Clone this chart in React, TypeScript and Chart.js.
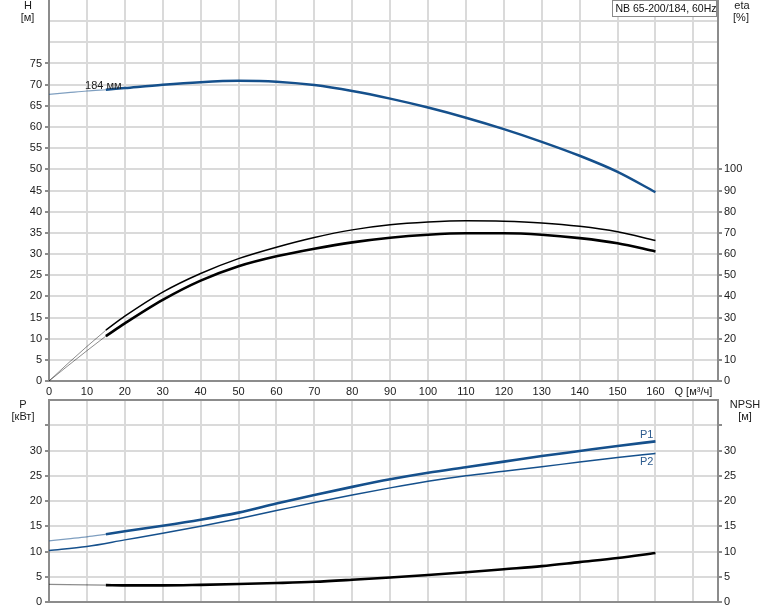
import React, { useEffect, useRef } from 'react';
import { Chart, registerables } from 'chart.js';

Chart.register(...registerables);

// ---------- data ----------
const Q_EXT = [0, 5, 10, 15];
const Q_MAIN = [15, 20, 30, 40, 50, 60, 70, 80, 90, 100, 110, 120, 130, 140, 150, 160];
const Q_P2 = [0, 10, 20, 30, 40, 50, 60, 70, 80, 90, 100, 110, 120, 130, 140, 150, 160];

const H_EXT = [67.7, 68.1, 68.5, 68.8];
const H_MAIN = [68.8, 69.2, 70.0, 70.6, 70.9, 70.7, 69.9, 68.5, 66.7, 64.6, 62.2, 59.5, 56.5, 53.2, 49.4, 44.6];

const ETA1_EXT = [0, 8.3, 16.3, 24.0];
const ETA1_MAIN = [24.0, 30.6, 42.0, 50.8, 57.8, 63.2, 67.8, 71.4, 73.8, 75.1, 75.7, 75.5, 74.7, 73.1, 70.5, 66.4];
const ETA2_EXT = [0, 7.2, 14.3, 21.2];
const ETA2_MAIN = [21.2, 27.2, 38.3, 47.4, 54.2, 58.9, 62.5, 65.5, 67.7, 69.1, 69.8, 69.8, 69.1, 67.5, 65.1, 61.2];

const P1_EXT = [12.1, 12.5, 12.9, 13.4];
const P1_MAIN = [13.4, 14.0, 15.1, 16.3, 17.7, 19.5, 21.2, 22.8, 24.3, 25.6, 26.7, 27.8, 28.9, 29.9, 30.9, 31.8];
const P2_ALL = [10.2, 11.0, 12.3, 13.6, 15.0, 16.5, 18.1, 19.7, 21.2, 22.6, 23.9, 25.0, 25.9, 26.8, 27.7, 28.6, 29.4];

const NPSH_EXT = [3.5, 3.45, 3.4, 3.35];
const NPSH_MAIN = [3.35, 3.3, 3.3, 3.4, 3.55, 3.75, 4.0, 4.4, 4.85, 5.35, 5.9, 6.5, 7.1, 7.9, 8.7, 9.7];

const X_TICKS = [0, 10, 20, 30, 40, 50, 60, 70, 80, 90, 100, 110, 120, 130, 140, 150, 160, 170];
const X_MAX = 176.5;
const Q_UNIT_LABEL = 'Q [м³/ч]';
const H_MAX = 90;
const H_LABEL_MAX = 75;
const ETA_MAX = 180;
const ETA_LABEL_MAX = 100;
const P_MAX = 40;
const P_LABEL_MAX = 30;

const TITLE = 'NB 65-200/184, 60Hz';
const CURVE_LABEL = '184 мм';

// ---------- styles ----------
const FONT = '"Liberation Sans", Arial, sans-serif';
const BLUE = '#15508c';
const BLUE_LIGHT = 'rgba(21,80,140,0.55)';
const GREY_EXT = 'rgba(0,0,0,0.45)';
const GRID = '#dadada';
const AXIS = '#8c8c8c';
const TEXT = '#1b1b1b';
const NONE = 'rgba(0,0,0,0)';

const pts = (xs: number[], ys: number[]) => xs.map((x, i) => ({ x, y: ys[i] }));

const line = (data: any, color: string, width: number, axis: string) => ({
  data,
  borderColor: color,
  borderWidth: width,
  pointRadius: 0,
  fill: false,
  cubicInterpolationMode: 'monotone',
  yAxisID: axis,
  borderCapStyle: 'butt',
});

const zeroPad = (s: any) => {
  s.paddingTop = 0;
  s.paddingBottom = 0;
  s.paddingLeft = 0;
  s.paddingRight = 0;
};

const text = (ctx: CanvasRenderingContext2D, t: string, x: number, y: number, align: CanvasTextAlign = 'center', color = TEXT, size = 11) => {
  ctx.save();
  ctx.font = `${size}px ${FONT}`;
  ctx.fillStyle = color;
  ctx.textAlign = align;
  ctx.textBaseline = 'middle';
  ctx.fillText(t, x, y);
  ctx.restore();
};

const xScale = (showLabels: boolean, height: number) => ({
  type: 'linear',
  min: 0,
  max: X_MAX,
  afterBuildTicks: (s: any) => {
    s.ticks = X_TICKS.map((v) => ({ value: v }));
  },
  afterFit: (s: any) => {
    s.height = height;
    zeroPad(s);
  },
  grid: { color: GRID, lineWidth: 2, drawTicks: false },
  border: { color: AXIS, width: 2 },
  ticks: {
    display: showLabels,
    padding: 4,
    maxRotation: 0,
    autoSkip: false,
    color: TEXT,
    font: { family: FONT, size: 11 },
    callback: (v: any) => (v === 170 ? Q_UNIT_LABEL : String(v)),
  },
});

const yScale = (position: 'left' | 'right', max: number, step: number, labelMax: number, width: number, opts: any = {}) => ({
  type: 'linear',
  position,
  min: 0,
  max,
  afterBuildTicks: (s: any) => {
    const t = [];
    for (let v = 0; v <= max + 1e-9; v += step) t.push({ value: v });
    s.ticks = t;
  },
  afterFit: (s: any) => {
    s.width = width;
    zeroPad(s);
  },
  border: { color: AXIS, width: 2 },
  ticks: {
    padding: position === 'left' ? 3 : 2,
    autoSkip: false,
    color: TEXT,
    font: { family: FONT, size: 11 },
    callback: (v: any) => (v <= labelMax ? String(v) : ''),
  },
  ...opts,
});

const topPlugin = {
  id: 'topTexts',
  afterDraw(chart: any) {
    const ctx = chart.ctx;
    const x = chart.scales.x;
    const y = chart.scales.y;
    text(ctx, 'H', 28, 6);
    text(ctx, '[м]', 27.5, 18);
    text(ctx, 'eta', 742, 6);
    text(ctx, '[%]', 741, 18);
    text(ctx, CURVE_LABEL, x.getPixelForValue(9.5), y.getPixelForValue(69.7), 'left');
    ctx.save();
    ctx.fillStyle = '#ffffff';
    ctx.strokeStyle = '#8a8a8a';
    ctx.lineWidth = 1;
    ctx.fillRect(612.5, 0.5, 104, 16);
    ctx.strokeRect(612.5, 0.5, 104, 16);
    ctx.restore();
    text(ctx, TITLE, 615.5, 9, 'left', '#111', 10.5);
  },
};

const bottomPlugin = {
  id: 'bottomTexts',
  afterDraw(chart: any) {
    const ctx = chart.ctx;
    const x = chart.scales.x;
    const y = chart.scales.y;
    text(ctx, 'P', 23, 10);
    text(ctx, '[кВт]', 23, 22);
    text(ctx, 'NPSH', 745, 10);
    text(ctx, '[м]', 745, 22);
    text(ctx, 'P1', x.getPixelForValue(157.7), y.getPixelForValue(33.1), 'center', '#2d5b8e');
    text(ctx, 'P2', x.getPixelForValue(157.7), y.getPixelForValue(27.7), 'center', '#2d5b8e');
  },
};

export default function App() {
  const topRef = useRef<HTMLCanvasElement>(null);
  const botRef = useRef<HTMLCanvasElement>(null);

  useEffect(() => {
    const top = new Chart(topRef.current as HTMLCanvasElement, {
      type: 'line',
      data: {
        datasets: [
          line(pts(Q_EXT, H_EXT), BLUE_LIGHT, 1.2, 'y'),
          line(pts(Q_MAIN, H_MAIN), BLUE, 2.5, 'y'),
          line(pts(Q_EXT, ETA1_EXT), GREY_EXT, 1, 'eta'),
          line(pts(Q_MAIN, ETA1_MAIN), '#000', 1.5, 'eta'),
          line(pts(Q_EXT, ETA2_EXT), GREY_EXT, 1, 'eta'),
          line(pts(Q_MAIN, ETA2_MAIN), '#000', 2.6, 'eta'),
        ] as any,
      },
      options: {
        animation: false,
        responsive: false,
        events: [],
        layout: { padding: 0 },
        plugins: { legend: { display: false }, tooltip: { enabled: false } },
        scales: {
          x: xScale(true, 19),
          y: yScale('left', H_MAX, 5, H_LABEL_MAX, 49, {
            grid: {
              lineWidth: 2,
              tickLength: 4,
              color: (c: any) => (c.tick && c.tick.value >= H_MAX ? NONE : GRID),
              tickColor: (c: any) => (c.tick && c.tick.value <= H_LABEL_MAX ? AXIS : NONE),
            },
          }),
          eta: yScale('right', ETA_MAX, 10, ETA_LABEL_MAX, 56, {
            grid: {
              drawOnChartArea: false,
              lineWidth: 2,
              tickLength: 4,
              tickColor: (c: any) => (c.tick && c.tick.value <= ETA_LABEL_MAX ? AXIS : NONE),
            },
          }),
        } as any,
      },
      plugins: [topPlugin],
    } as any);

    const bot = new Chart(botRef.current as HTMLCanvasElement, {
      type: 'line',
      data: {
        datasets: [
          line(pts(Q_EXT, P1_EXT), BLUE_LIGHT, 1.3, 'y'),
          line(pts(Q_MAIN, P1_MAIN), BLUE, 2.6, 'y'),
          line(pts(Q_P2, P2_ALL), BLUE, 1.5, 'y'),
          line(pts(Q_EXT, NPSH_EXT), GREY_EXT, 1.2, 'npsh'),
          line(pts(Q_MAIN, NPSH_MAIN), '#000', 2.6, 'npsh'),
        ] as any,
      },
      options: {
        animation: false,
        responsive: false,
        events: [],
        layout: { padding: { top: 5, left: 0, right: 0, bottom: 0 } },
        plugins: { legend: { display: false }, tooltip: { enabled: false } },
        scales: {
          x: xScale(false, 9),
          y: yScale('left', P_MAX, 5, P_LABEL_MAX, 49, {
            grid: {
              lineWidth: 2,
              tickLength: 4,
              color: (c: any) => (c.tick && c.tick.value >= P_MAX ? AXIS : GRID),
              tickColor: (c: any) => (c.tick && c.tick.value >= P_MAX ? NONE : AXIS),
            },
          }),
          npsh: yScale('right', P_MAX, 5, P_LABEL_MAX, 56, {
            grid: {
              drawOnChartArea: false,
              lineWidth: 2,
              tickLength: 4,
              tickColor: (c: any) => (c.tick && c.tick.value >= P_MAX ? NONE : AXIS),
            },
          }),
        } as any,
      },
      plugins: [bottomPlugin],
    } as any);

    return () => {
      top.destroy();
      bot.destroy();
    };
  }, []);

  return (
    <div style={{ position: 'fixed', left: 0, top: 0, width: 774, height: 611, background: '#fff' }}>
      <canvas ref={topRef} width={774} height={400} style={{ position: 'absolute', left: 0, top: 0, display: 'block' }} />
      <canvas ref={botRef} width={774} height={216} style={{ position: 'absolute', left: 0, top: 395, display: 'block' }} />
    </div>
  );
}
